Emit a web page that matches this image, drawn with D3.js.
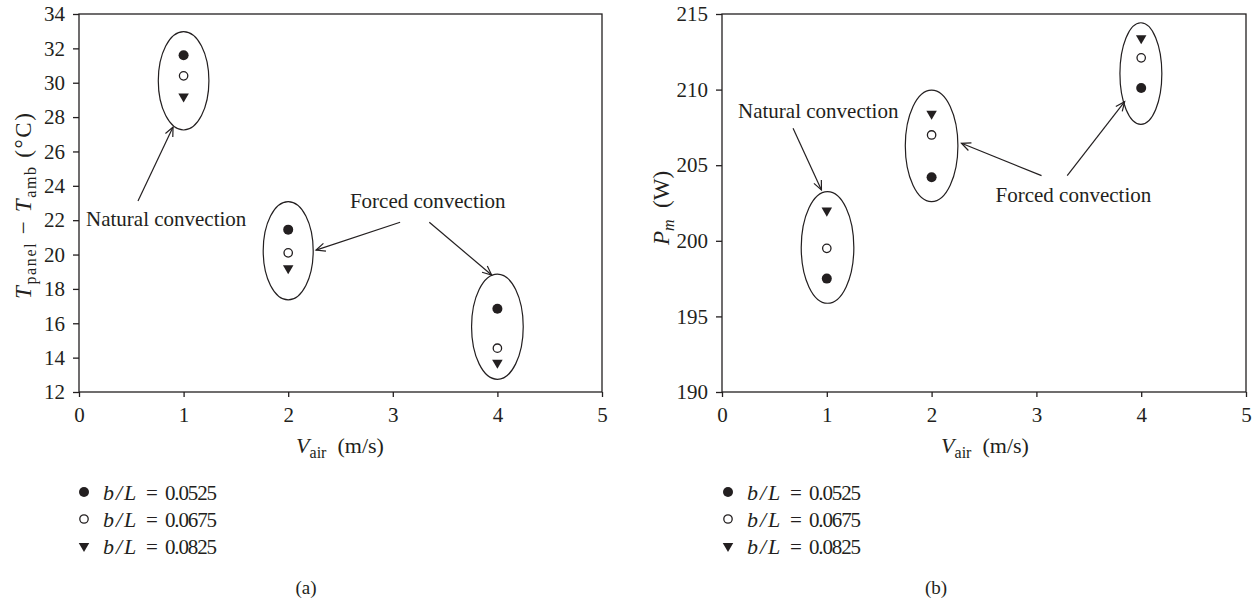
<!DOCTYPE html>
<html><head><meta charset="utf-8">
<script src="https://cdn.jsdelivr.net/npm/d3@7"></script>
<style>
html,body{margin:0;padding:0;background:#fff;}
svg{display:block;}
text{font-family:"Liberation Serif","Times New Roman",serif;fill:#231f20;}
</style></head><body>
<svg id="chart" width="1254" height="606"></svg>
<script>
// ---------------- data ----------------
const speeds = [1, 2, 4];                       // V_air (m/s)
const xTicks = [0, 1, 2, 3, 4, 5];
const seriesNames = ["0.0525", "0.0675", "0.0825"];   // b/L
const seriesSymbols = ["filled", "open", "triangle"];
// (a) T_panel - T_amb (°C)
const tempFilled   = [31.6, 21.45, 16.85];
const tempOpen     = [30.4, 20.1, 14.55];
const tempTriangle = [29.2, 19.2, 13.7];
const tempTicks = [12, 14, 16, 18, 20, 22, 24, 26, 28, 30, 32, 34];
// (b) P_m (W)
const powerFilled   = [197.5, 204.2, 210.1];
const powerOpen     = [199.5, 207.0, 212.1];
const powerTriangle = [202.0, 208.4, 213.4];
const powerTicks = [190, 195, 200, 205, 210, 215];
// group outlines: [centre x, centre y, half width (x units), half height (y units)]
const tempGroups  = [[1, 30.11, 0.242, 2.86], [2, 20.22, 0.239, 2.86], [4, 15.8, 0.247, 3.06]];
const powerGroups = [[1.007, 199.56, 0.251, 3.69], [2, 206.28, 0.251, 3.69], [3.997, 211.06, 0.2, 3.36]];
// annotations (data units)
const tempLabels  = [[0.067, 21.66, "Natural convection"], [2.59, 22.71, "Forced convection"]];
const tempArrows  = [[0.564, 23.12, 0.899, 27.42], [3.07, 21.88, 2.266, 20.26], [3.349, 21.88, 3.945, 18.81]];
const powerLabels = [[0.153, 208.1, "Natural convection"], [2.61, 202.59, "Forced convection"]];
const powerArrows = [[0.678, 207.44, 0.949, 203.36], [3.049, 204.31, 2.285, 206.45], [3.294, 204.31, 3.842, 209.2]];

// ---------------- drawing ----------------
const svg = d3.select("#chart");
const INK = "#231f20";

function drawPanel(cfg) {
  const x = d3.scaleLinear().domain([0, 5]).range(cfg.xRange);
  const y = d3.scaleLinear().domain(cfg.yDomain).range([392, 14]);
  const g = svg.append("g");

  // axes
  const ax = g.append("g").attr("transform", `translate(0,${y.range()[0]})`)
    .call(d3.axisBottom(x).tickValues(xTicks).tickFormat(d3.format("d"))
      .tickSize(5).tickSizeOuter(0).tickPadding(10));
  const ay = g.append("g").attr("transform", `translate(${x.range()[0]},0)`)
    .call(d3.axisLeft(y).tickValues(cfg.yTicks).tickFormat(d3.format("d"))
      .tickSize(6).tickSizeOuter(0).tickPadding(8));
  [ax, ay].forEach(a => {
    a.select(".domain").remove();
    a.selectAll("line").attr("stroke", INK).attr("stroke-width", 1.3);
    a.selectAll("text").attr("font-size", 21).attr("fill", INK)
      .style("font-family", '"Liberation Serif","Times New Roman",serif');
  });
  // frame
  g.append("rect")
    .attr("x", x(0)).attr("y", y.range()[1])
    .attr("width", x(5) - x(0)).attr("height", y.range()[0] - y.range()[1])
    .attr("fill", "none").attr("stroke", INK).attr("stroke-width", 1.3);

  // group ellipses
  g.selectAll("ellipse.grp").data(cfg.groups).join("ellipse").attr("class", "grp")
    .attr("cx", d => x(d[0])).attr("cy", d => y(d[1]))
    .attr("rx", d => x(d[2]) - x(0)).attr("ry", d => y(cfg.yDomain[0]) - y(cfg.yDomain[0] + d[3]))
    .attr("fill", "none").attr("stroke", INK).attr("stroke-width", 1.2);

  // series markers
  cfg.series.forEach((vals, i) => {
    const pts = speeds.map((s, k) => [s, vals[k]]);
    drawMarkers(g, pts.map(p => [x(p[0]), y(p[1])]), seriesSymbols[i]);
  });

  // annotation labels
  g.selectAll("text.ann").data(cfg.labels).join("text").attr("class", "ann")
    .attr("x", d => x(d[0])).attr("y", d => y(d[1]))
    .attr("font-size", 21).text(d => d[2]);
  // arrows
  cfg.arrows.forEach(a => arrow(g, x(a[0]), y(a[1]), x(a[2]), y(a[3])));

  // x title
  const xt = g.append("text").attr("x", cfg.xTitleX).attr("y", 453)
    .attr("text-anchor", "middle").attr("font-size", 22);
  xt.append("tspan").attr("font-style", "italic").text("V");
  xt.append("tspan").attr("font-size", 16).attr("dy", 5).text("air");
  xt.append("tspan").attr("dy", -5).text("\u2002(m/s)");

  // legend
  const lg = g.append("g");
  seriesNames.forEach((nm, i) => {
    const yy = 492 + i * 27;
    drawMarkers(lg, [[cfg.legendX, yy]], seriesSymbols[i]);
    lg.append("text").attr("x", cfg.legendX + 19).attr("y", yy + 7.5)
      .attr("font-size", 22).attr("font-style", "italic")
      .attr("letter-spacing", 2).text("b/L");
    lg.append("text").attr("x", cfg.legendX + 62).attr("y", yy + 7.5)
      .attr("font-size", 21).text("=");
    lg.append("text").attr("x", cfg.legendX + 81).attr("y", yy + 7.5)
      .attr("font-size", 21).attr("textLength", 52).attr("lengthAdjust", "spacing").text(nm);
  });

  // caption
  g.append("text").attr("x", cfg.captionX).attr("y", 594).attr("text-anchor", "middle")
    .attr("font-size", 19).text(cfg.caption);
  return g;
}

function drawMarkers(g, pts, kind) {
  if (kind === "filled") {
    g.selectAll(null).data(pts).join("circle")
      .attr("cx", d => d[0]).attr("cy", d => d[1]).attr("r", 5).attr("fill", INK);
  } else if (kind === "open") {
    g.selectAll(null).data(pts).join("circle")
      .attr("cx", d => d[0]).attr("cy", d => d[1]).attr("r", 4.2)
      .attr("fill", "#fff").attr("stroke", INK).attr("stroke-width", 1.3);
  } else {
    const sym = d3.symbol().type(d3.symbolTriangle).size(48);
    g.selectAll(null).data(pts).join("path")
      .attr("d", sym).attr("fill", INK)
      .attr("transform", d => `translate(${d[0]},${d[1]}) rotate(180)`);
  }
}

function arrow(g, x1, y1, x2, y2) {
  g.append("line").attr("x1", x1).attr("y1", y1).attr("x2", x2).attr("y2", y2)
    .attr("stroke", INK).attr("stroke-width", 1.2);
  const a = Math.atan2(y2 - y1, x2 - x1), L = 10, w = 0.42;
  const p = d3.path();
  p.moveTo(x2 - L * Math.cos(a - w), y2 - L * Math.sin(a - w));
  p.lineTo(x2, y2);
  p.lineTo(x2 - L * Math.cos(a + w), y2 - L * Math.sin(a + w));
  g.append("path").attr("d", p.toString()).attr("fill", "none")
    .attr("stroke", INK).attr("stroke-width", 1.2);
}

// panel (a)
drawPanel({
  xRange: [79, 602], yDomain: [12, 34], yTicks: tempTicks,
  series: [tempFilled, tempOpen, tempTriangle], groups: tempGroups,
  labels: tempLabels, arrows: tempArrows,
  xTitleX: 340, legendX: 84, captionX: 306, caption: "(a)"
});
// y title (a)
(function () {
  const t = svg.append("text").attr("transform", "translate(31,206) rotate(-90)")
    .attr("text-anchor", "middle").attr("font-size", 23)
    .attr("textLength", 186).attr("lengthAdjust", "spacing");
  t.append("tspan").attr("font-style", "italic").text("T");
  t.append("tspan").attr("font-size", 16).attr("dy", 5).text("panel");
  t.append("tspan").attr("dy", -5).text(" \u2212 ");
  t.append("tspan").attr("font-style", "italic").text("T");
  t.append("tspan").attr("font-size", 16).attr("dy", 5).text("amb");
  t.append("tspan").attr("dy", -5).text(" (\u00b0C)");
})();

// panel (b)
drawPanel({
  xRange: [722, 1246], yDomain: [190, 215], yTicks: powerTicks,
  series: [powerFilled, powerOpen, powerTriangle], groups: powerGroups,
  labels: powerLabels, arrows: powerArrows,
  xTitleX: 985, legendX: 728, captionX: 936, caption: "(b)"
});
(function () {
  const t = svg.append("text").attr("transform", "translate(669,208) rotate(-90)")
    .attr("text-anchor", "middle").attr("font-size", 23);
  t.append("tspan").attr("font-style", "italic").text("P");
  t.append("tspan").attr("font-size", 16).attr("font-style", "italic").attr("dy", 5).text("m");
  t.append("tspan").attr("dy", -5).text("\u2002(W)");
})();
</script>
</body></html>
